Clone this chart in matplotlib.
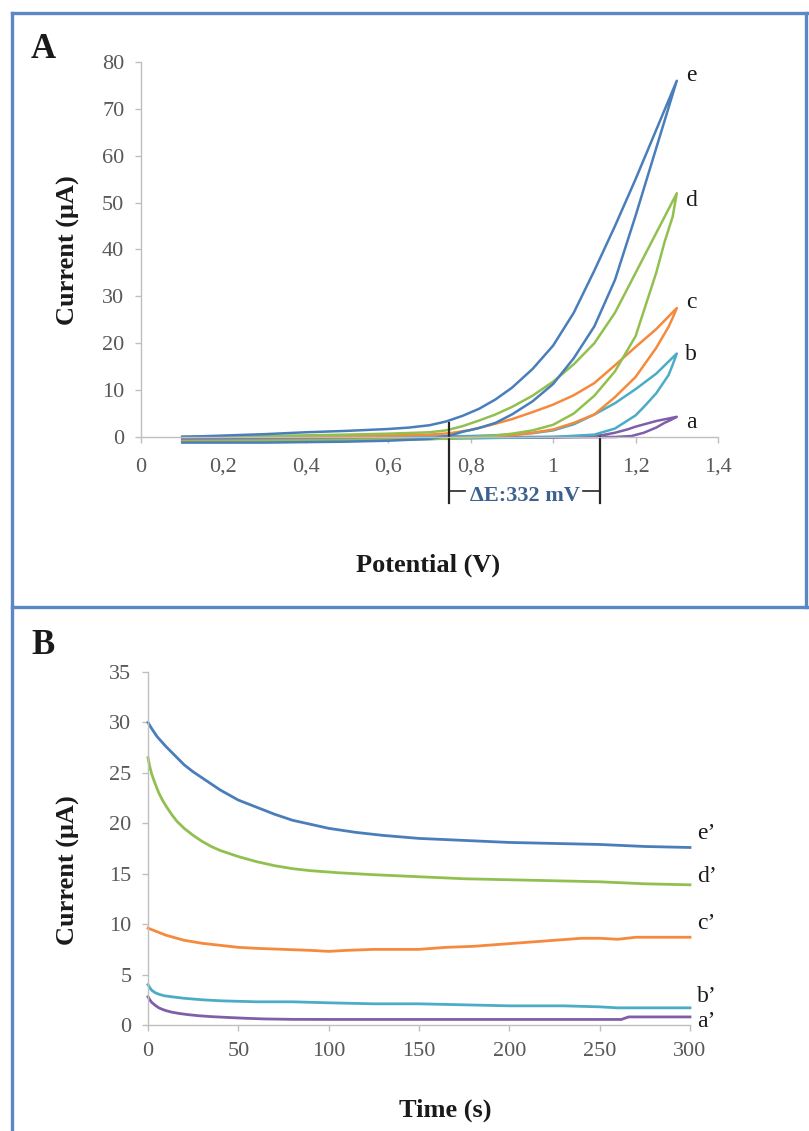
import matplotlib
matplotlib.use("Agg")
import matplotlib.pyplot as plt
from matplotlib.lines import Line2D

plt.rcParams['font.family'] = ['Liberation Serif', 'DejaVu Serif']

# ---------------- Panel A data (cyclic voltammograms) ----------------
a_fwd_v = [0.10, 0.50, 0.80, 1.00, 1.08, 1.12, 1.15, 1.18, 1.20, 1.25, 1.30]
a_fwd_i = [0.0, 0.0, 0.0, 0.0, 0.1, 0.4, 0.9, 1.6, 2.2, 3.4, 4.3]
a_rev_v = [1.30, 1.285, 1.27, 1.25, 1.22, 1.19, 1.15, 1.00, 0.50, 0.10]
a_rev_i = [4.3, 3.6, 3.0, 2.0, 0.9, 0.2, 0.0, -0.1, -0.3, -0.5]

b_fwd_v = [0.10, 0.50, 0.70, 0.80, 0.90, 0.95, 1.00, 1.05, 1.10, 1.15, 1.20, 1.25, 1.30]
b_fwd_i = [0.0, 0.0, 0.1, 0.2, 0.5, 0.8, 1.4, 2.7, 4.8, 7.2, 10.2, 13.5, 17.8]
b_rev_v = [1.30, 1.29, 1.28, 1.25, 1.22, 1.20, 1.15, 1.10, 1.00, 0.80, 0.50, 0.10]
b_rev_i = [17.8, 15.4, 13.2, 9.3, 6.4, 4.6, 1.8, 0.5, 0.0, -0.3, -0.6, -0.8]

c_fwd_v = [0.10, 0.40, 0.60, 0.70, 0.75, 0.80, 0.85, 0.90, 0.95, 1.00, 1.05, 1.10, 1.15, 1.20, 1.25, 1.30]
c_fwd_i = [0.0, 0.1, 0.3, 0.5, 0.8, 1.5, 2.6, 3.8, 5.3, 6.9, 8.9, 11.5, 15.3, 19.2, 23.0, 27.5]
c_rev_v = [1.30, 1.29, 1.28, 1.25, 1.20, 1.15, 1.10, 1.05, 1.00, 0.95, 0.90, 0.80, 0.60, 0.30, 0.10]
c_rev_i = [27.5, 25.4, 23.5, 19.0, 12.8, 8.5, 4.8, 3.0, 1.6, 0.9, 0.4, -0.1, -0.6, -0.8, -0.9]

d_fwd_v = [0.10, 0.30, 0.50, 0.60, 0.70, 0.74, 0.78, 0.82, 0.86, 0.90, 0.95, 1.00, 1.05, 1.10, 1.15, 1.20, 1.25, 1.30]
d_fwd_i = [0.0, 0.2, 0.5, 0.7, 1.0, 1.4, 2.3, 3.5, 4.8, 6.4, 8.8, 11.8, 15.5, 20.0, 26.5, 35.0, 43.5, 52.0]
d_rev_v = [1.30, 1.29, 1.27, 1.25, 1.20, 1.15, 1.10, 1.05, 1.00, 0.95, 0.90, 0.85, 0.80, 0.70, 0.50, 0.30, 0.10]
d_rev_i = [52.0, 47.0, 41.5, 35.0, 21.5, 14.0, 8.8, 5.0, 2.6, 1.4, 0.7, 0.2, -0.1, -0.5, -0.7, -0.9, -1.0]

e_fwd_v = [0.10, 0.20, 0.30, 0.40, 0.50, 0.60, 0.65, 0.70, 0.74, 0.78, 0.82, 0.86, 0.90, 0.95, 1.00, 1.05, 1.10, 1.15, 1.20, 1.25, 1.30]
e_fwd_i = [0.0, 0.3, 0.6, 1.0, 1.3, 1.7, 2.0, 2.5, 3.3, 4.5, 6.0, 8.0, 10.5, 14.5, 19.5, 26.5, 35.5, 45.0, 55.0, 65.5, 76.0]
e_rev_v = [1.30, 1.25, 1.20, 1.15, 1.10, 1.05, 1.00, 0.95, 0.90, 0.86, 0.82, 0.78, 0.75, 0.70, 0.60, 0.50, 0.40, 0.30, 0.20, 0.10]
e_rev_i = [76.0, 61.6, 47.2, 33.5, 23.6, 16.8, 11.3, 7.6, 4.8, 3.0, 1.9, 1.1, 0.3, -0.4, -0.8, -1.0, -1.1, -1.2, -1.2, -1.2]

cv_labels = ['a', 'b', 'c', 'd', 'e']
cv_label_y = [3.0, 17.5, 28.6, 50.5, 77.2]

# ---------------- Panel B data (chronoamperometry) ----------------
ea_t = [0, 2, 5, 10, 15, 20, 25, 30, 35, 40, 45, 50, 60, 70, 80, 90, 100, 115, 130, 150, 175, 200, 225, 250, 275, 300]
ea_i = [30.0, 29.4, 28.6, 27.6, 26.7, 25.8, 25.1, 24.5, 23.9, 23.3, 22.8, 22.3, 21.6, 20.9, 20.3, 19.9, 19.5, 19.1, 18.8, 18.5, 18.3, 18.1, 18.0, 17.9, 17.7, 17.6]

da_t = [0, 1, 2, 4, 6, 8, 10, 13, 16, 20, 25, 30, 35, 40, 50, 60, 70, 80, 90, 105, 125, 150, 175, 200, 225, 250, 275, 300]
da_i = [26.5, 25.6, 24.9, 23.9, 23.0, 22.3, 21.7, 20.9, 20.2, 19.5, 18.8, 18.2, 17.7, 17.3, 16.7, 16.2, 15.8, 15.5, 15.3, 15.1, 14.9, 14.7, 14.5, 14.4, 14.3, 14.2, 14.0, 13.9]

ca_t = [0, 10, 20, 30, 40, 50, 60, 75, 90, 100, 110, 125, 140, 150, 165, 180, 195, 210, 225, 240, 250, 260, 270, 285, 300]
ca_i = [9.6, 8.9, 8.4, 8.1, 7.9, 7.7, 7.6, 7.5, 7.4, 7.3, 7.4, 7.5, 7.5, 7.5, 7.7, 7.8, 8.0, 8.2, 8.4, 8.6, 8.6, 8.5, 8.7, 8.7, 8.7]

ba_t = [0, 1, 2, 4, 6, 9, 13, 20, 30, 40, 60, 80, 100, 125, 150, 175, 200, 230, 250, 260, 300]
ba_i = [4.0, 3.7, 3.45, 3.2, 3.05, 2.9, 2.8, 2.65, 2.5, 2.4, 2.3, 2.3, 2.2, 2.1, 2.1, 2.0, 1.9, 1.9, 1.8, 1.7, 1.7]

aa_t = [0, 1, 2, 4, 6, 8, 10, 13, 17, 22, 28, 35, 45, 55, 65, 80, 100, 150, 200, 262, 266, 300]
aa_i = [2.8, 2.5, 2.25, 1.95, 1.7, 1.55, 1.42, 1.28, 1.15, 1.03, 0.92, 0.83, 0.74, 0.66, 0.6, 0.56, 0.55, 0.55, 0.55, 0.55, 0.8, 0.8]

ca_labels = ['a\u2019', 'b\u2019', 'c\u2019', 'd\u2019', 'e\u2019']
ca_label_y = [0.3, 2.8, 10.1, 14.7, 19.0]

colors = ['#7F5FA8', '#4BACC6', '#F58A3C', '#92C050', '#4A7EBB']

W, H = 809, 1131
fig = plt.figure(figsize=(W / 100, H / 100), dpi=100)

def fx(px):
    return px / W

def fy(py):
    return 1 - py / H

AX_COL = '#BFBFBF'
TICK_COL = '#595959'
TXT = '#1a1a1a'

# ---------------- Panel A ----------------
axA = fig.add_axes([fx(141), fy(460.4), fx(718) - fx(141), fy(62) - fy(460.4)])
cv = [(a_fwd_v, a_fwd_i, a_rev_v, a_rev_i),
      (b_fwd_v, b_fwd_i, b_rev_v, b_rev_i),
      (c_fwd_v, c_fwd_i, c_rev_v, c_rev_i),
      (d_fwd_v, d_fwd_i, d_rev_v, d_rev_i),
      (e_fwd_v, e_fwd_i, e_rev_v, e_rev_i)]
for (fv, fi, rv, ri), col in zip(cv, colors):
    axA.plot(fv + rv, fi + ri, color=col, lw=1.8, solid_joinstyle='round', clip_on=False)
for lab, y in zip(cv_labels, cv_label_y):
    axA.text(1.335, y, lab, ha='center', va='center', fontsize=17, color=TXT)

axA.set_xlim(0, 1.4)
axA.set_ylim(-5, 80)
axA.set_xticks([0, 0.2, 0.4, 0.6, 0.8, 1.0, 1.2, 1.4])
axA.set_xticklabels(['0', '0,2', '0,4', '0,6', '0,8', '1', '1,2', '1,4'])
axA.set_yticks(range(0, 81, 10))
for s in ['top', 'right']:
    axA.spines[s].set_visible(False)
axA.spines['bottom'].set_position(('data', 0))
axA.spines['left'].set_bounds(0, 80)
for s in ['bottom', 'left']:
    axA.spines[s].set_color(AX_COL)
    axA.spines[s].set_linewidth(1.0)
axA.tick_params(axis='both', colors=AX_COL, labelcolor=TICK_COL, labelsize=16,
                length=4, width=1.0, direction='out', pad=8)
axA.tick_params(axis='x', pad=11)

# delta E annotation
xl, xr = 0.748, 1.114
axA.plot([xl, xl], [3.0, -14.1], color='#262626', lw=1.6, clip_on=False)
axA.plot([xr, xr], [0.0, -14.1], color='#262626', lw=1.6, clip_on=False)
axA.plot([xl, xl + 0.038], [-11.5, -11.5], color='#262626', lw=1.2, clip_on=False)
axA.plot([xr - 0.042, xr], [-11.5, -11.5], color='#262626', lw=1.2, clip_on=False)
axA.text((xl + xr) / 2, -12.6, '\u0394E:332 mV', ha='center', va='center',
         fontsize=16, fontweight='bold', color='#3B6190')

fig.text(fx(428), fy(565), 'Potential (V)', ha='center', va='center',
         fontsize=19, fontweight='bold', color=TXT)
fig.text(fx(68), fy(250), 'Current (\u03bcA)', ha='center', va='center', rotation=90,
         fontsize=19, fontweight='bold', color=TXT)
fig.text(fx(43), fy(50), 'A', ha='center', va='center', fontsize=25,
         fontweight='bold', color=TXT)

# ---------------- Panel B ----------------
axB = fig.add_axes([fx(148), fy(1025), fx(690) - fx(148), fy(672) - fy(1025)])
ca = [(aa_t, aa_i), (ba_t, ba_i), (ca_t, ca_i), (da_t, da_i), (ea_t, ea_i)]
for (t, i), col in zip(ca, colors):
    axB.plot(t, i, color=col, lw=2.0, solid_joinstyle='round', clip_on=False)
for lab, y in zip(ca_labels, ca_label_y):
    axB.text(304, y, lab, ha='left', va='center', fontsize=17, color=TXT)
axB.set_xlim(0, 300)
axB.set_ylim(0, 35)
axB.set_xticks(range(0, 301, 50))
axB.set_yticks(range(0, 36, 5))
for s in ['top', 'right']:
    axB.spines[s].set_visible(False)
for s in ['bottom', 'left']:
    axB.spines[s].set_color(AX_COL)
    axB.spines[s].set_linewidth(1.0)
axB.tick_params(axis='both', colors=AX_COL, labelcolor=TICK_COL, labelsize=16,
                length=4, width=1.0, direction='out', pad=8)

fig.text(fx(445), fy(1110), 'Time (s)', ha='center', va='center',
         fontsize=19, fontweight='bold', color=TXT)
fig.text(fx(68), fy(870), 'Current (\u03bcA)', ha='center', va='center', rotation=90,
         fontsize=19, fontweight='bold', color=TXT)
fig.text(fx(43), fy(645), 'B', ha='center', va='center', fontsize=25,
         fontweight='bold', color=TXT)

# ---------------- Panel frames ----------------
BORDER = '#5B87C5'
lw_b = 2.4
for (x0, y0, x1, y1) in [(12, 13, 809, 13), (12, 13, 12, 1131), (12, 607, 809, 607), (806, 13, 806, 607)]:
    fig.add_artist(Line2D([fx(x0), fx(x1)], [fy(y0), fy(y1)], color=BORDER, lw=lw_b,
                          transform=fig.transFigure))

fig.savefig('out.png', dpi=100)
